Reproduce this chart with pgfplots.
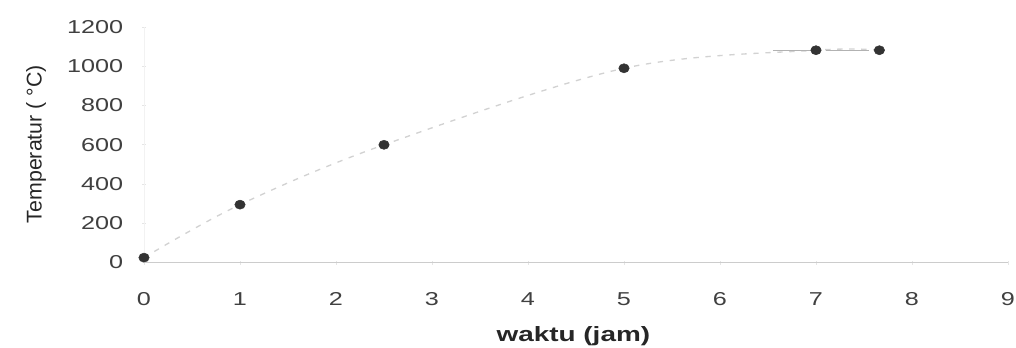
\documentclass[border=0pt]{standalone}
\usepackage{pgfplots}
\pgfplotsset{compat=1.18}
\usepackage{fontspec}
\setmainfont{Liberation Sans}
\newfontfamily\widefont{Liberation Sans}[FakeStretch=1.35]
\begin{document}
\begin{tikzpicture}
\useasboundingbox (-108pt,-63.4pt) rectangle (654pt,196.9pt);
\begin{axis}[
  at={(0,0)}, anchor=south west,
  scale only axis, width=648pt, height=176.6pt,
  xmin=0, xmax=9, ymin=0, ymax=1200,
  axis x line=bottom, axis y line=left,
  x axis line style={-, draw=gray!40, line width=0.8pt},
  y axis line style={-, draw=gray!10, line width=0.6pt},
  xtick={0,1,...,9}, ytick={0,200,...,1200},
  tick style={draw=gray!20, line width=0.5pt},
  major tick length=3pt,
  /pgf/number format/assume math mode=true,
  /pgf/number format/set thousands separator={},
  tick label style={font=\widefont\fontsize{14}{16}\selectfont, text=black!75},
  xticklabel style={anchor=center, yshift=-25.9pt},
  yticklabel style={anchor=east, inner sep=0pt, xshift=-14pt},
  xlabel={\widefont\bfseries waktu (jam)},
  xlabel style={at={(axis description cs:0.497,-0.312)}, anchor=center, font=\fontsize{15.5}{18}\selectfont, text=black!85},
  ylabel={Temperatur ( °C)},
  ylabel style={at={(axis description cs:-0.125,0.503)}, anchor=center, rotate=0, font=\fontsize{16}{19}\selectfont, text=black!85},
  clip=false,
]
\addplot[smooth, tension=0.55, gray!35, line width=1pt, dash pattern=on 4pt off 5pt] coordinates {
  (0,25) (1,295) (2.5,600) (5,990) (7,1082) (7.66,1082)
};
\addplot[gray!60, line width=1pt] coordinates {(6.55,1082) (6.95,1082)};
\addplot[gray!60, line width=1pt] coordinates {(7.1,1082) (7.55,1082)};
\addplot[only marks, mark=*, mark size=3.4pt, black!80, mark options={xscale=1.15}] coordinates {
  (0,25) (1,295) (2.5,600) (5,990) (7,1082) (7.66,1082)
};
\end{axis}
\end{tikzpicture}
\end{document}
